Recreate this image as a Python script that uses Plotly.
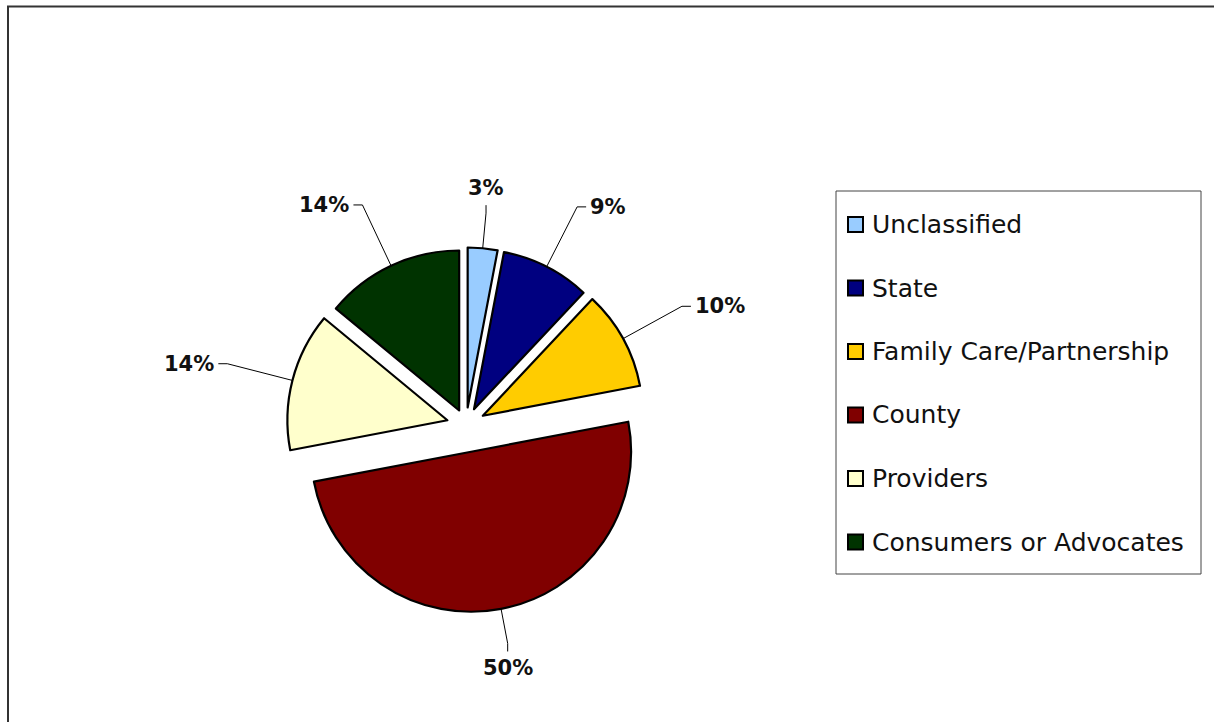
import math
import plotly.graph_objects as go

# Share of respondents by affiliation
categories = ["Unclassified", "State", "Family Care/Partnership", "County",
              "Providers", "Consumers or Advocates"]
shares = [3, 9, 10, 50, 14, 14]
colors = ["#99CCFF", "#000080", "#FFCC00", "#800000", "#FFFFCC", "#003300"]

W, H = 1214, 722
pulls = [0.11, 0.11, 0.12, 0.17, 0.12, 0.10]

# Pie placement (pixels) -> domain
cx, cy, r = 466, 425, 160
half = r * (1 + max(pulls))
dom_x = [(cx - half) / W, (cx + half) / W]
dom_y = [1 - (cy + half) / H, 1 - (cy - half) / H]

fig = go.Figure(go.Pie(
    labels=categories,
    values=shares,
    sort=False,
    direction="clockwise",
    rotation=0,
    pull=pulls,
    marker=dict(colors=colors, line=dict(color="#000000", width=2.2)),
    textinfo="none",
    hoverinfo="label+percent",
    showlegend=False,
    domain=dict(x=dom_x, y=dom_y),
))

shapes = []
annotations = []


def px(x):
    return x / W


def py(y):
    return 1 - y / H


LABEL_FONT = dict(family="DejaVu Sans", size=21, color="#111111")

# Outside percentage labels with leader lines, derived from slice angles
total = sum(shares)
start = 0.0
for val, pull in zip(shares, pulls):
    frac = val / total
    mid = (start + frac / 2) * 2 * math.pi
    start += frac
    dx, dy = math.sin(mid), -math.cos(mid)
    ox, oy = cx + pull * r * dx, cy + pull * r * dy
    x0, y0 = ox + r * dx, oy + r * dy
    txt = f"<b>{round(frac * 100)}%</b>"
    if abs(dy) > 0.95:
        k = 1.22
        ex, ey = ox + k * r * dx, oy + k * r * dy
        sgn = 1 if dy > 0 else -1
        fx, fy = ex, ey + 8 * sgn
        annotations.append(dict(
            x=px(fx), y=py(fy + 3 * sgn), xref="paper", yref="paper",
            text=txt, showarrow=False,
            xanchor="center", yanchor="top" if sgn > 0 else "bottom",
            font=LABEL_FONT))
    else:
        k = 1.42
        ex, ey = ox + k * r * dx, oy + k * r * dy
        sgn = 1 if dx > 0 else -1
        fx, fy = ex + 9 * sgn, ey
        annotations.append(dict(
            x=px(fx + 2 * sgn), y=py(fy), xref="paper", yref="paper",
            text=txt, showarrow=False,
            xanchor="left" if sgn > 0 else "right", yanchor="middle",
            font=LABEL_FONT))
    shapes.append(dict(
        type="path", xref="paper", yref="paper",
        path=f"M {px(x0)} {py(y0)} L {px(ex)} {py(ey)} L {px(fx)} {py(fy)}",
        line=dict(color="#000000", width=1)))

# Legend box with swatches and labels
lx0, ly0, lx1, ly1 = 836, 191, 1201, 574
shapes.append(dict(type="rect", xref="paper", yref="paper",
                   x0=px(lx0), x1=px(lx1), y0=py(ly1), y1=py(ly0),
                   line=dict(color="#444444", width=1), fillcolor="rgba(0,0,0,0)"))
row0, step, sw = 224.5, 63.5, 15
for i, (name, col) in enumerate(zip(categories, colors)):
    yc = row0 + i * step
    shapes.append(dict(type="rect", xref="paper", yref="paper",
                       x0=px(848), x1=px(848 + sw),
                       y0=py(yc + sw / 2), y1=py(yc - sw / 2),
                       line=dict(color="#000000", width=2), fillcolor=col))
    annotations.append(dict(
        x=px(870), y=py(yc), xref="paper", yref="paper", text=name,
        showarrow=False, xanchor="left", yanchor="middle",
        font=dict(family="DejaVu Sans", size=25, color="#111111")))

# Chart frame
shapes.append(dict(type="rect", xref="paper", yref="paper",
                   x0=px(8), x1=1.02, y0=-0.02, y1=py(6.5),
                   line=dict(color="#333333", width=2), fillcolor="rgba(0,0,0,0)"))

fig.update_layout(
    width=W, height=H,
    margin=dict(l=0, r=0, t=0, b=0),
    paper_bgcolor="#FFFFFF",
    plot_bgcolor="#FFFFFF",
    showlegend=False,
    shapes=shapes,
    annotations=annotations,
)

fig.write_html("out.html")
